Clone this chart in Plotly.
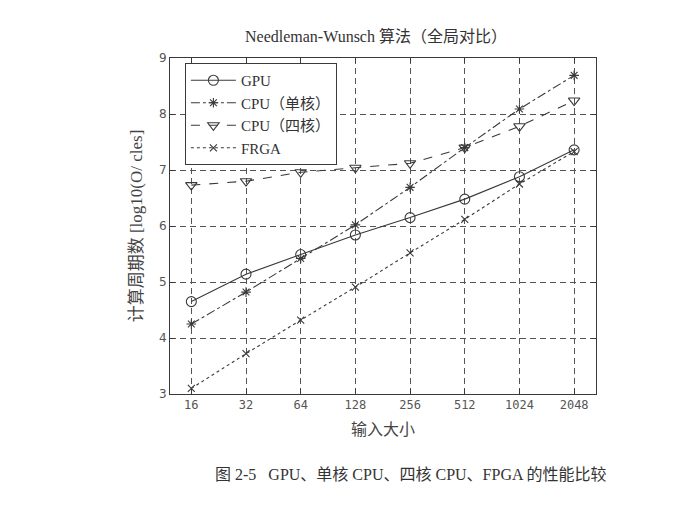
import plotly.graph_objects as go

sizes = ["16", "32", "64", "128", "256", "512", "1024", "2048"]

gpu = [4.65, 5.14, 5.49, 5.84, 6.15, 6.48, 6.88, 7.36]
cpu_single = [4.25, 4.82, 5.42, 6.02, 6.69, 7.40, 8.09, 8.69]
cpu_quad = [6.73, 6.80, 6.96, 7.04, 7.12, 7.40, 7.78, 8.24]
frga = [3.10, 3.72, 4.32, 4.91, 5.52, 6.12, 6.75, 7.33]

ink = "#3a3a3a"
serif = "Liberation Serif, Noto Sans CJK SC"

fig = go.Figure()

series = [
    ("GPU", gpu, "solid", "circle-open", 10),
    ("CPU（单核）", cpu_single, "dashdot", "asterisk-open", 8),
    ("CPU（四核）", cpu_quad, "dash", "triangle-down-open", 10),
    ("FRGA", frga, "dot", "x-thin-open", 7),
]

for name, vals, dash, sym, ms in series:
    fig.add_trace(go.Scatter(
        x=sizes, y=vals, name=name, mode="lines+markers",
        line=dict(color=ink, width=1.1, dash=dash),
        marker=dict(symbol=sym, size=ms, color=ink, line=dict(color=ink, width=1.1)),
    ))

fig.update_layout(
    width=699, height=510,
    margin=dict(l=162, r=111, t=50, b=124),
    paper_bgcolor="white", plot_bgcolor="white",
    title=dict(text="Needleman-Wunsch 算法（全局对比）", x=368 / 699, xanchor="center",
               y=1 - 28 / 510, yanchor="middle", font=dict(family=serif, size=16, color="#333")),
    legend=dict(x=0.035, y=0.985, xanchor="left", yanchor="top",
                bgcolor="white", bordercolor=ink, borderwidth=1,
                font=dict(family=serif, size=15, color="#333"),
                tracegroupgap=0, itemwidth=45),
    showlegend=True,
)

fig.update_xaxes(
    type="category", range=[-0.39, 7.4],
    showline=True, linecolor=ink, linewidth=1, mirror="ticks",
    ticks="inside", ticklen=5, tickcolor=ink,
    showgrid=True, gridcolor="#555", griddash="6px,4px", gridwidth=1,
    tickfont=dict(family="DejaVu Sans Mono", size=12, color="#555"),
    title=dict(text="输入大小", font=dict(family="Noto Sans CJK SC", size=16, color="#444"), standoff=12),
    zeroline=False,
)
fig.update_yaxes(
    range=[3, 9], dtick=1,
    showline=True, linecolor=ink, linewidth=1, mirror="ticks",
    ticks="inside", ticklen=5, tickcolor=ink,
    showgrid=True, gridcolor="#555", griddash="6px,4px", gridwidth=1,
    tickfont=dict(family="DejaVu Sans", size=12, color="#555"),
    title=dict(text="计算周期数 [log10(O/ cles]", font=dict(family=serif, size=17, color="#444"), standoff=12),
    zeroline=False,
)

fig.add_annotation(
    text="图 2-5   GPU、单核 CPU、四核 CPU、FPGA 的性能比较",
    xref="paper", yref="paper", x=(205 - 162) / 426, y=-80 / 336,
    xanchor="left", yanchor="middle", showarrow=False,
    font=dict(family=serif, size=16, color="#333"),
)

fig.write_html("out.html")
